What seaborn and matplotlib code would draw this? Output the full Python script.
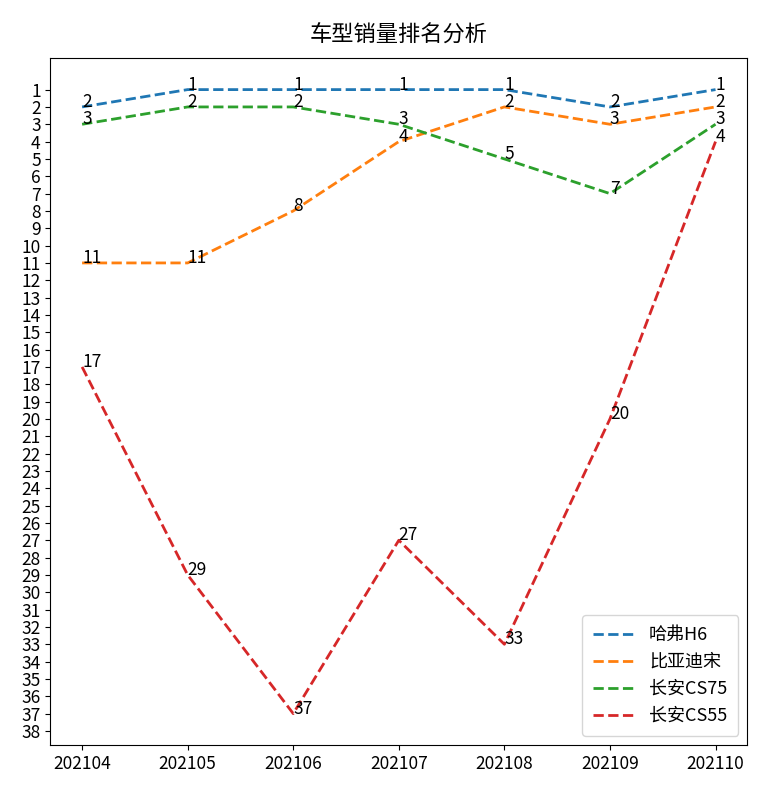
import matplotlib
matplotlib.use('Agg')
import matplotlib.pyplot as plt
import seaborn as sns
import pandas as pd

plt.rcParams['font.family'] = ['Noto Sans CJK SC', 'DejaVu Sans']
plt.rcParams['axes.unicode_minus'] = False

# Data: monthly sales ranking per model
months = ['202104', '202105', '202106', '202107', '202108', '202109', '202110']
haval_h6 = [2, 1, 1, 1, 1, 2, 1]
byd_song = [11, 11, 8, 4, 2, 3, 2]
cs75 = [3, 2, 2, 3, 5, 7, 3]
cs55 = [17, 29, 37, 27, 33, 20, 4]
names = ['哈弗H6', '比亚迪宋', '长安CS75', '长安CS55']

series = [haval_h6, byd_song, cs75, cs55]
colors = sns.color_palette('tab10', 4)

fig, ax = plt.subplots(figsize=(7.64, 8), dpi=100)

for name, vals, c in zip(names, series, colors):
    df = pd.DataFrame({'month': months, 'rank': vals})
    sns.lineplot(data=df, x='month', y='rank', ax=ax, color=c,
                 linestyle='--', linewidth=2, label=name)
    # rank labels at each point
    for i, v in enumerate(vals):
        ax.text(i, v, str(v), fontsize=12.5)

ax.invert_yaxis()
ax.set_yticks(range(1, 39))
ax.set_xlabel('')
ax.set_ylabel('')
ax.set_title('车型销量排名分析', fontsize=16, pad=12)
ax.tick_params(labelsize=12.5)
ax.legend(loc='lower right', fontsize=13, handlelength=2.3, borderpad=0.6)

plt.subplots_adjust(left=0.066, right=0.978, top=0.927, bottom=0.069)
plt.savefig('out.png')
